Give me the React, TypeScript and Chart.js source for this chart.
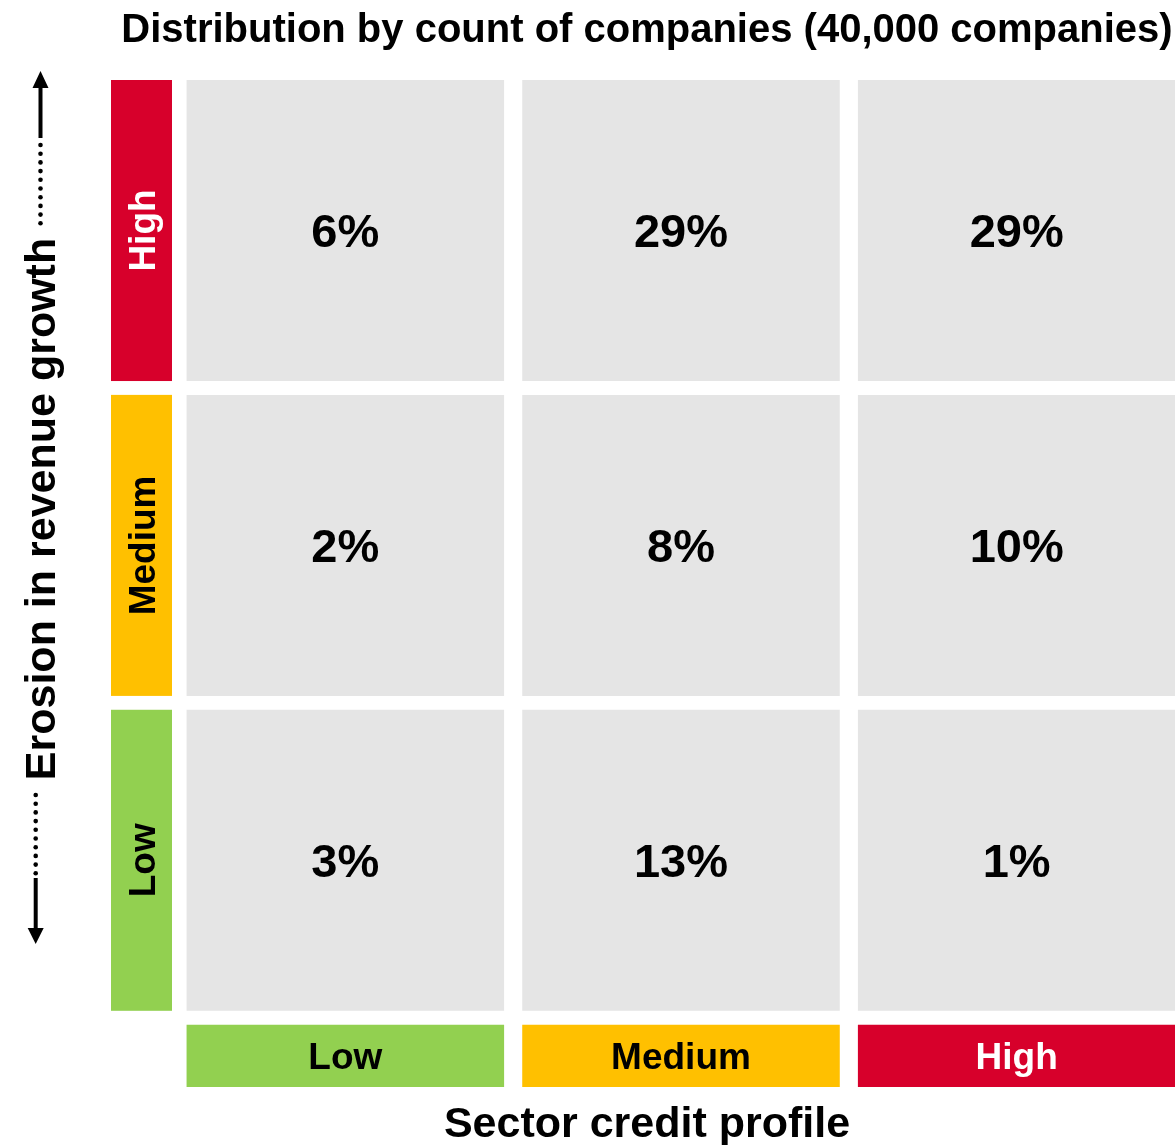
import React, { useEffect, useRef } from "react";
import { Chart, registerables } from "chart.js";

Chart.register(...registerables);

const chartTitle = "Distribution by count of companies (40,000 companies)";
const xAxisTitle = "Sector credit profile";
const yAxisTitle = "Erosion in revenue growth";
const creditProfiles = ["Low", "Medium", "High"]; // columns, left to right
const erosionLevels = ["Low", "Medium", "High"]; // rows, bottom to top
// share of companies (%) per erosion level, one value per credit profile
const lowErosion = [3, 13, 1];
const mediumErosion = [2, 8, 10];
const highErosion = [6, 29, 29];

const seriesByRow = [lowErosion, mediumErosion, highErosion];
const levelColors = ["#92D050", "#FFC000", "#D7002B"];
const levelTextColors = ["#000000", "#000000", "#FFFFFF"];
const FONT = '"Liberation Sans", Arial, sans-serif';

export default function App() {
  const ref = useRef<HTMLCanvasElement | null>(null);

  useEffect(() => {
    document.body.style.margin = "0";
    document.documentElement.style.overflow = "hidden";
    document.body.style.overflow = "hidden";
    const canvas = ref.current;
    if (!canvas) return;

    const g = 0.022; // half gap between rows, in value units
    const bandBottom = -0.22;
    const barPct = 0.946;

    const datasets: any[] = seriesByRow.map((vals, r) => ({
      label: erosionLevels[r],
      data: vals.map(() => [r + g, r + 1 - g]),
      backgroundColor: "#E5E5E5",
      borderWidth: 0,
      grouped: false,
      barPercentage: barPct,
      categoryPercentage: 1,
    }));
    datasets.push({
      label: "band",
      data: creditProfiles.map(() => [bandBottom, -g]),
      backgroundColor: levelColors,
      borderWidth: 0,
      grouped: false,
      barPercentage: barPct,
      categoryPercentage: 1,
    });

    const capMid = (size: number) => size * 0.358;

    const decor = {
      id: "decor",
      afterDatasetsDraw(chart: any) {
        const ctx = chart.ctx as CanvasRenderingContext2D;
        const y = chart.scales.y;
        ctx.save();
        // cell values
        ctx.textAlign = "center";
        ctx.textBaseline = "alphabetic";
        seriesByRow.forEach((vals, r) => {
          const meta = chart.getDatasetMeta(r);
          meta.data.forEach((el: any, c: number) => {
            const cy = (el.y + el.base) / 2;
            ctx.font = `bold 47px ${FONT}`;
            ctx.fillStyle = "#000";
            ctx.fillText(`${vals[c]}%`, el.x, cy + capMid(47));
          });
        });
        // column labels
        const band = chart.getDatasetMeta(seriesByRow.length);
        band.data.forEach((el: any, c: number) => {
          const cy = (el.y + el.base) / 2;
          ctx.font = `bold 37px ${FONT}`;
          ctx.fillStyle = levelTextColors[c];
          ctx.fillText(creditProfiles[c], el.x, cy + capMid(37));
        });
        // row labels
        const bx0 = 111, bx1 = 172;
        erosionLevels.forEach((lab, r) => {
          const top = y.getPixelForValue(r + 1 - g);
          const bot = y.getPixelForValue(r + g);
          ctx.fillStyle = levelColors[r];
          ctx.fillRect(bx0, top, bx1 - bx0, bot - top);
          ctx.save();
          ctx.translate((bx0 + bx1) / 2 + capMid(37), (top + bot) / 2);
          ctx.rotate(-Math.PI / 2);
          ctx.font = `bold 37px ${FONT}`;
          ctx.fillStyle = levelTextColors[r];
          ctx.textAlign = "center";
          ctx.fillText(lab, 0, 0);
          ctx.restore();
        });
        // titles
        ctx.fillStyle = "#000";
        ctx.textAlign = "center";
        ctx.font = `bold 40px ${FONT}`;
        ctx.fillText(chartTitle, 647, 42);
        ctx.font = `bold 43px ${FONT}`;
        ctx.fillText(xAxisTitle, 647, 1137);
        ctx.save();
        ctx.translate(55, 509);
        ctx.rotate(-Math.PI / 2);
        ctx.fillText(yAxisTitle, 0, 0);
        ctx.restore();
        // arrows
        ctx.strokeStyle = "#000";
        ctx.fillStyle = "#000";
        ctx.lineWidth = 4;
        // top arrow
        let ax = 40.5;
        ctx.beginPath();
        ctx.moveTo(ax, 86);
        ctx.lineTo(ax, 138);
        ctx.stroke();
        ctx.beginPath();
        ctx.moveTo(ax, 71);
        ctx.lineTo(ax - 8, 88);
        ctx.lineTo(ax + 8, 88);
        ctx.closePath();
        ctx.fill();
        for (let i = 0; i < 10; i++) {
          ctx.beginPath();
          ctx.arc(ax, 145 + i * 8.7, 2.3, 0, Math.PI * 2);
          ctx.fill();
        }
        // bottom arrow
        ax = 35.7;
        for (let i = 0; i < 10; i++) {
          ctx.beginPath();
          ctx.arc(ax, 795 + i * 8.7, 2.3, 0, Math.PI * 2);
          ctx.fill();
        }
        ctx.beginPath();
        ctx.moveTo(ax, 878);
        ctx.lineTo(ax, 931);
        ctx.stroke();
        ctx.beginPath();
        ctx.moveTo(ax, 944);
        ctx.lineTo(ax - 8, 928);
        ctx.lineTo(ax + 8, 928);
        ctx.closePath();
        ctx.fill();
        ctx.restore();
      },
    };

    const chart = new Chart(canvas, {
      type: "bar",
      data: { labels: creditProfiles, datasets },
      options: {
        animation: false,
        responsive: false,
        devicePixelRatio: 1,
        layout: { padding: { left: 177.5, right: 0.5, top: 80, bottom: 58 } },
        plugins: {
          legend: { display: false },
          title: { display: false },
          tooltip: { enabled: false },
        },
        scales: {
          x: { display: false, offset: true },
          y: { display: false, min: bandBottom, max: 3 - g },
        },
      },
      plugins: [decor],
    });
    return () => chart.destroy();
  }, []);

  return <canvas ref={ref} width={1185} height={1145} style={{ display: "block" }} />;
}
